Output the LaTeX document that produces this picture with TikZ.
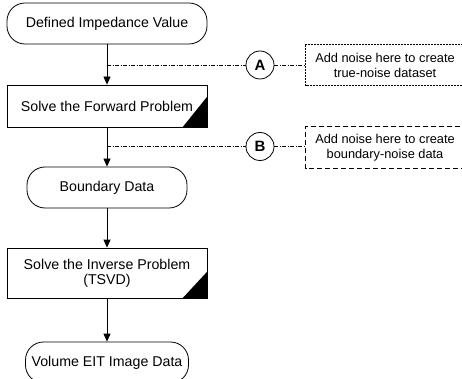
\documentclass[tikz,border=0pt]{standalone}
\usepackage{fontspec}
\setmainfont{Liberation Sans}
\usetikzlibrary{arrows.meta}

\begin{document}
\begin{tikzpicture}[x=1pt, y=-1pt, >={Triangle[length=8pt,width=7pt]}, line width=0.8pt,
    term/.style={draw, rounded corners=18pt, minimum width=200pt, minimum height=41pt, inner sep=0pt, font=\fontsize{14.2}{15}\selectfont},
    proc/.style={draw, minimum width=200pt, minimum height=42pt, inner sep=0pt, align=center, font=\fontsize{14.2}{15}\selectfont},
    tap/.style={draw, circle, minimum size=28pt, inner sep=0pt, font=\bfseries\fontsize{15}{17}\selectfont},
    note/.style={minimum width=158pt, minimum height=41pt, inner sep=0pt, align=center, font=\fontsize{12.8}{15}\selectfont},
    dashdot/.style={dash pattern=on 4pt off 1.5pt on 1pt off 1.5pt}]
    % ==== FRAME ====
    \useasboundingbox (0,0) rectangle (462,379);
    \clip (0,0) rectangle (462,379);

    % ==== FLOW ====
    \node[term] (start) at (107,23.5) {Defined Impedance Value};
    \node[proc] (fwd) at (107,106) {Solve the Forward Problem};
    \node[term, minimum width=160pt] (bdata) at (107,187.5) {Boundary Data};
    \node[proc, minimum height=50pt] (inv) at (107,273) {Solve the Inverse Problem\\(TSVD)};
    \node[term, minimum width=163pt] (vol) at (107,362.5) {Volume EIT Image Data};

    % ==== CORNER MARKS ====
    \fill ([xshift=-25pt]fwd.south east) -- (fwd.south east) -- ([yshift=31pt]fwd.south east) -- cycle;
    \fill ([xshift=-25pt]inv.south east) -- (inv.south east) -- ([yshift=27pt]inv.south east) -- cycle;

    % ==== ARROWS ====
    \draw[->] (start) -- (fwd);
    \draw[->] (fwd) -- (bdata);
    \draw[->] (bdata) -- (inv);
    \draw[->] (inv) -- (vol);

    % ==== NOISE POINTS ====
    \coordinate (ta) at (107,65);
    \node[tap] (ca) at (260,65) {A};
    \node[note] (na) at (385,65) {Add noise here to create\\true-noise dataset};
    \draw[dash pattern=on 2pt off 1pt] ([xshift=20pt]na.north east) -- (na.north west) -- (na.south west) -- ([xshift=20pt]na.south east);
    \draw[dashdot] (ta) -- (ca) -- (ca -| na.west);

    \coordinate (tb) at (107,146.5);
    \node[tap] (cb) at (260,146.5) {B};
    \node[note] (nb) at (385,147.5) {Add noise here to create\\boundary-noise data};
    \draw[dash pattern=on 5pt off 3pt] ([xshift=20pt]nb.north east) -- (nb.north west) -- (nb.south west) -- ([xshift=20pt]nb.south east);
    \draw[dashdot] (tb) -- (cb) -- (cb -| nb.west);
\end{tikzpicture}
\end{document}
